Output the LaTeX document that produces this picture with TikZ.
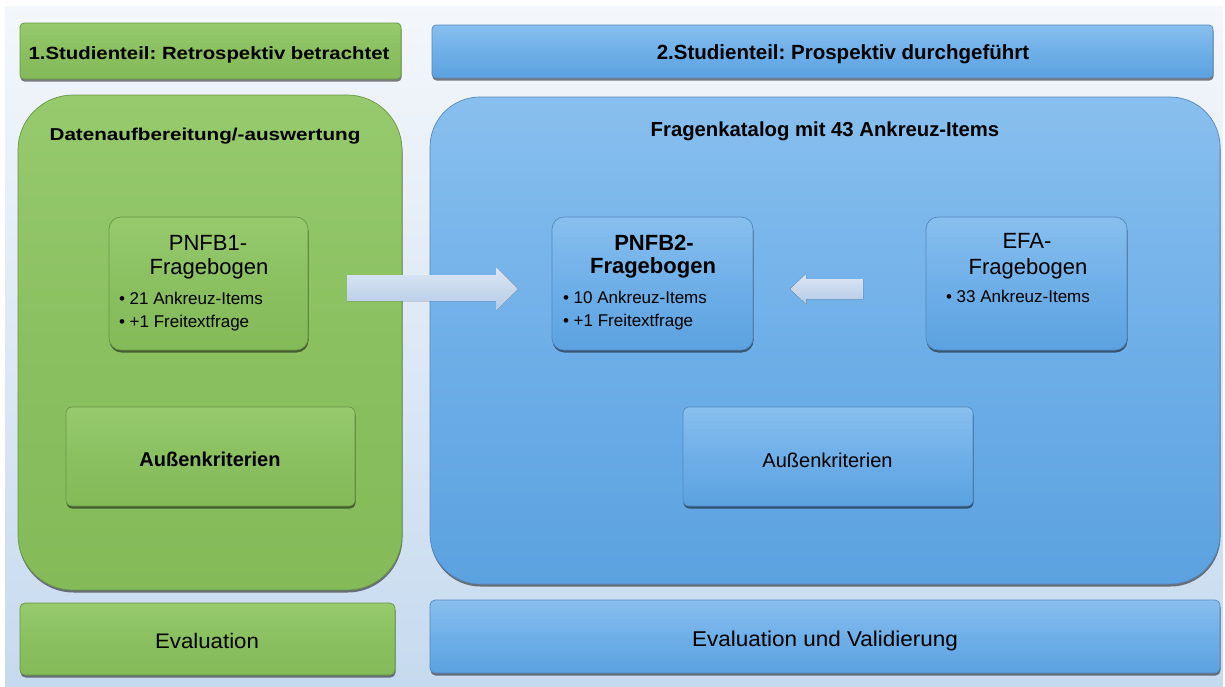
\documentclass[tikz,border=0pt]{standalone}
\usepackage{fontspec}
\setmainfont{Liberation Sans}
\usepackage{graphicx}
\usetikzlibrary{shadows}
\frenchspacing

\definecolor{gtop}{HTML}{96CA6D}
\definecolor{gmid}{HTML}{8BC061}
\definecolor{gbot}{HTML}{84BA58}
\definecolor{gline}{HTML}{6A9646}
\definecolor{btop}{HTML}{88BFEE}
\definecolor{bmid}{HTML}{6FAFE8}
\definecolor{bbot}{HTML}{5BA2E0}
\definecolor{bline}{HTML}{5488BE}
\definecolor{bgtop}{HTML}{F4F7FB}
\definecolor{bgbot}{HTML}{C6DAEF}
\definecolor{atop}{HTML}{DCE7F4}
\definecolor{abot}{HTML}{B4CAE6}

\newcommand{\fsz}[1]{\fontsize{#1}{#1}\selectfont}
\newcommand{\sxx}[2]{\scalebox{#1}[1]{#2}}

\begin{document}
\begin{tikzpicture}[x=1pt,y=-1pt,
  boxbase/.style={inner sep=0pt, outer sep=0pt, line width=0.7pt,
    drop shadow={shadow xshift=0.5pt, shadow yshift=-2.5pt, opacity=0.5, fill=black}},
  gbox/.style={boxbase, draw=gline, top color=gtop, bottom color=gbot, middle color=gmid},
  bbox/.style={boxbase, draw=bline, top color=btop, bottom color=bbot, middle color=bmid},
  txt/.style={inner sep=0pt, outer sep=0pt, anchor=base, text=black},
  bul/.style={inner sep=0pt, outer sep=0pt, anchor=base west, text=black, font=\fsz{17}},
  arr/.style={top color=atop, bottom color=abot, draw=none}
]
% canvas
\fill[white] (0,0) rectangle (1225,686);
\shade[top color=bgtop, bottom color=bgbot] (5,6) rectangle (1223,686);
\useasboundingbox (0,0) rectangle (1225,686);

% headers
\node[gbox, rounded corners=4pt, minimum width=381pt, minimum height=56pt] (h1) at (210.5,51) {};
\node[bbox, rounded corners=4pt, minimum width=781pt, minimum height=53pt] (h2) at (822.5,51.5) {};
\node[txt] (h1t) at (209,59) {\fsz{17.7}\bfseries\sxx{1.15}{1.Studienteil: Retrospektiv betrachtet}};
\node[txt] (h2t) at (843,59) {\fsz{20.5}\bfseries 2.Studienteil: Prospektiv durchgeführt};

% big panels
\node[gbox, rounded corners=55pt, minimum width=384pt, minimum height=495pt] (pg) at (210,342.5) {};
\node[bbox, rounded corners=50pt, minimum width=790pt, minimum height=487pt] (pb) at (825,340.5) {};
\node[txt] (pgt) at (205,140) {\fsz{17.2}\bfseries\sxx{1.2}{Datenaufbereitung/-auswertung}};
\node[txt] (pbt) at (825,136) {\fsz{20.3}\bfseries Fragenkatalog mit 43 Ankreuz-Items};

% questionnaire boxes
\node[gbox, rounded corners=12pt, minimum width=199pt, minimum height=133pt] (q1) at (208.5,283.5) {};
\node[bbox, rounded corners=12pt, minimum width=201pt, minimum height=133pt] (q2) at (652.5,283.5) {};
\node[bbox, rounded corners=12pt, minimum width=201pt, minimum height=133pt] (q3) at (1026.5,283.5) {};

\node[txt] (q1a) at (208,250) {\fsz{22}PNFB1-};
\node[txt] (q1b) at (209,274) {\fsz{22}Fragebogen};
\node[bul] (q1c) at (119,304) {• 21 Ankreuz-Items};
\node[bul] (q1d) at (119,327) {• +1 Freitextfrage};

\node[txt] (q2a) at (654,250) {\fsz{22}\bfseries PNFB2-};
\node[txt] (q2b) at (653,273) {\fsz{22}\bfseries Fragebogen};
\node[bul] (q2c) at (563,303) {• 10 Ankreuz-Items};
\node[bul] (q2d) at (563,326) {• +1 Freitextfrage};

\node[txt] (q3a) at (1027,248) {\fsz{22}EFA-};
\node[txt] (q3b) at (1028,274) {\fsz{22}Fragebogen};
\node[bul] (q3c) at (946,302) {• 33 Ankreuz-Items};

% Aussenkriterien
\node[gbox, rounded corners=6pt, minimum width=289pt, minimum height=99pt] (k1) at (210.5,456.5) {};
\node[bbox, rounded corners=6pt, minimum width=290pt, minimum height=99pt] (k2) at (828,456.5) {};
\node[txt] (k1t) at (210,466) {\fsz{20}\bfseries Außenkriterien};
\node[txt] (k2t) at (827.5,467) {\fsz{20}Außenkriterien};

% evaluation
\node[gbox, rounded corners=5pt, minimum width=375pt, minimum height=72pt] (e1) at (207.5,639) {};
\node[bbox, rounded corners=5pt, minimum width=790pt, minimum height=73pt] (e2) at (825,636.5) {};
\node[txt] (e1t) at (207,648) {\fsz{21}\sxx{1.06}{Evaluation}};
\node[txt] (e2t) at (825,646) {\fsz{21.4}\sxx{1.05}{Evaluation und Validierung}};

% block arrows
\fill[arr] (347,275) -- (496,275) -- (496,267) -- (518,289) -- (496,311) -- (496,301) -- (347,301) -- cycle;
\fill[arr] (863,279) -- (806,279) -- (806,274) -- (790,289) -- (806,304) -- (806,299) -- (863,299) -- cycle;
\end{tikzpicture}
\end{document}
